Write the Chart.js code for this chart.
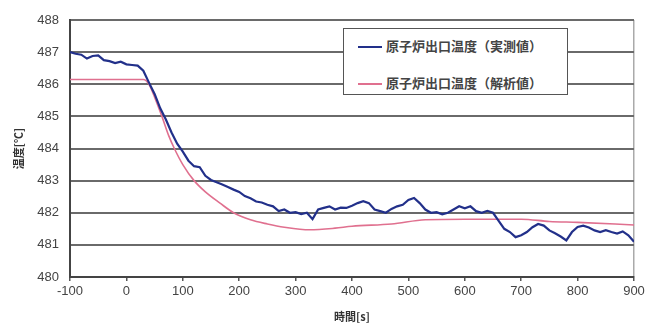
<!DOCTYPE html>
<html>
<head>
<meta charset="utf-8">
<script src="https://cdn.jsdelivr.net/npm/chart.js@4.4.1/dist/chart.umd.min.js"></script>
<style>
  body { margin: 0; background: #fff; }
  #wrap { position: relative; width: 652px; height: 327px; }
  #leyenda {
    position: absolute; left: 343px; top: 28px; width: 223px; height: 65px;
    border: 1px solid #555; background: #fff;
    font-family: "Noto Sans CJK JP", sans-serif; font-size: 13px; font-weight: bold; color: #444;
  }
  .item { position: absolute; left: 14px; height: 16px; line-height: 16px; white-space: nowrap; }
  .item span.linea { display: inline-block; width: 24px; height: 2px; vertical-align: middle; margin-right: 4px; }
</style>
</head>
<body>
<div id="wrap">
  <canvas id="grafico" width="652" height="327"></canvas>
  <div id="leyenda"></div>
</div>
<script>
// Datos
const tiempoMedido = [
  -100, -90, -80, -70, -60, -50, -40, -30, -20, -10,
  0, 10, 20, 30, 40, 50, 60, 70, 80, 90,
  100, 110, 120, 130, 140, 150, 160, 170, 180, 190,
  200, 210, 220, 230, 240, 250, 260, 270, 280, 290,
  300, 310, 320, 330, 340, 350, 360, 370, 380, 390,
  400, 410, 420, 430, 440, 450, 460, 470, 480, 490,
  500, 510, 520, 530, 540, 550, 560, 570, 580, 590,
  600, 610, 620, 630, 640, 650, 660, 670, 680, 690,
  700, 710, 720, 730, 740, 750, 760, 770, 780, 790,
  800, 810, 820, 830, 840, 850, 860, 870, 880, 890, 900
];
const tempMedida = [
  487.0, 486.95, 486.92, 486.8, 486.88, 486.9, 486.75, 486.72, 486.66, 486.7,
  486.62, 486.6, 486.58, 486.42, 486.05, 485.7, 485.25, 484.9, 484.5, 484.15,
  483.9, 483.62, 483.45, 483.42, 483.15, 483.02, 482.95, 482.88, 482.8, 482.72,
  482.65, 482.52, 482.45, 482.35, 482.32, 482.25, 482.2, 482.05, 482.1, 482.0,
  482.02, 481.96, 482.0, 481.8, 482.1, 482.15, 482.2, 482.1, 482.16, 482.15,
  482.22, 482.3, 482.36, 482.3, 482.1, 482.05, 482.0, 482.12, 482.2, 482.25,
  482.4, 482.46, 482.3, 482.1, 482.0, 482.02, 481.95, 482.0, 482.1, 482.2,
  482.14, 482.2, 482.05, 482.0, 482.06, 482.0, 481.75, 481.5, 481.4, 481.24,
  481.3, 481.4, 481.55, 481.65, 481.6, 481.45, 481.36, 481.26, 481.14, 481.4,
  481.56, 481.6, 481.54, 481.45, 481.4, 481.46, 481.4, 481.35, 481.42, 481.3, 481.1
];

const tiempoAnalisis = [-100, 0, 30, 40, 50, 63, 75, 85, 100, 120, 140, 166, 190, 220, 250, 280, 325, 370, 400, 470, 530, 600, 700, 750, 800, 900];
const tempAnalisis = [486.15, 486.15, 486.15, 486.0, 485.6, 485.0, 484.4, 484.0, 483.5, 483.0, 482.65, 482.3, 482.0, 481.78, 481.65, 481.55, 481.47, 481.52, 481.58, 481.65, 481.78, 481.8, 481.8, 481.73, 481.7, 481.62];

const etiquetas = ['原子炉出口温度（実測値）', '原子炉出口温度（解析値）'];
const colores = ['#22308a', '#e0708f'];

const tickFont = { family: '"Liberation Sans", Arial, sans-serif', size: 13 };
const cjkFont = '"Noto Sans CJK JP", sans-serif';

function puntos(xs, ys) {
  return xs.map((x, i) => ({ x: x, y: ys[i] }));
}

const ctx = document.getElementById('grafico');

const grafico = new Chart(ctx, {
  type: 'line',
  data: {
    datasets: [{
      label: etiquetas[0],
      data: puntos(tiempoMedido, tempMedida),
      borderColor: colores[0],
      borderWidth: 2.2,
      pointRadius: 0,
      tension: 0
    }, {
      label: etiquetas[1],
      data: puntos(tiempoAnalisis, tempAnalisis),
      borderColor: colores[1],
      borderWidth: 1.6,
      pointRadius: 0,
      cubicInterpolationMode: 'monotone'
    }]
  },
  options: {
    responsive: false,
    animation: false,
    layout: { padding: { left: 0, right: 18, top: 20, bottom: 0 } },
    plugins: { legend: { display: false }, tooltip: { enabled: false } },
    scales: {
      x: {
        type: 'linear',
        min: -100, max: 900,
        afterFit: s => { s.height = 50; },
        ticks: { stepSize: 100, color: '#444', font: tickFont, padding: 3, maxRotation: 0 },
        grid: {
          color: c => (c.tick && c.tick.value === 900) ? '#aaa' : 'rgba(0,0,0,0)',
          tickColor: '#555', tickLength: 4, lineWidth: 1.5
        },
        border: { color: '#444', width: 2 },
        title: { display: true, text: '時間[s]', color: '#333', font: { family: cjkFont, size: 11, weight: 'bold' }, padding: { top: 2 } }
      },
      y: {
        min: 480, max: 488,
        afterFit: s => { s.width = 70; },
        ticks: { stepSize: 1, color: '#444', font: tickFont, padding: 11 },
        grid: { color: '#6a6a6a', lineWidth: 2, drawTicks: false },
        border: { color: '#444', width: 2 },
        title: { display: true, text: '温度[℃]', color: '#333', font: { family: cjkFont, size: 11, weight: 'bold' }, padding: { bottom: 0, top: 12 } }
      }
    }
  }
});

// Leyenda en HTML dentro del área del gráfico
const leyenda = document.getElementById('leyenda');
grafico.data.datasets.forEach((ds, i) => {
  const div = document.createElement('div');
  div.className = 'item';
  div.style.top = (i === 0 ? 9 : 46) + 'px';
  div.innerHTML = '<span class="linea" style="background:' + ds.borderColor + '"></span>' + ds.label;
  leyenda.appendChild(div);
});
</script>
</body>
</html>
